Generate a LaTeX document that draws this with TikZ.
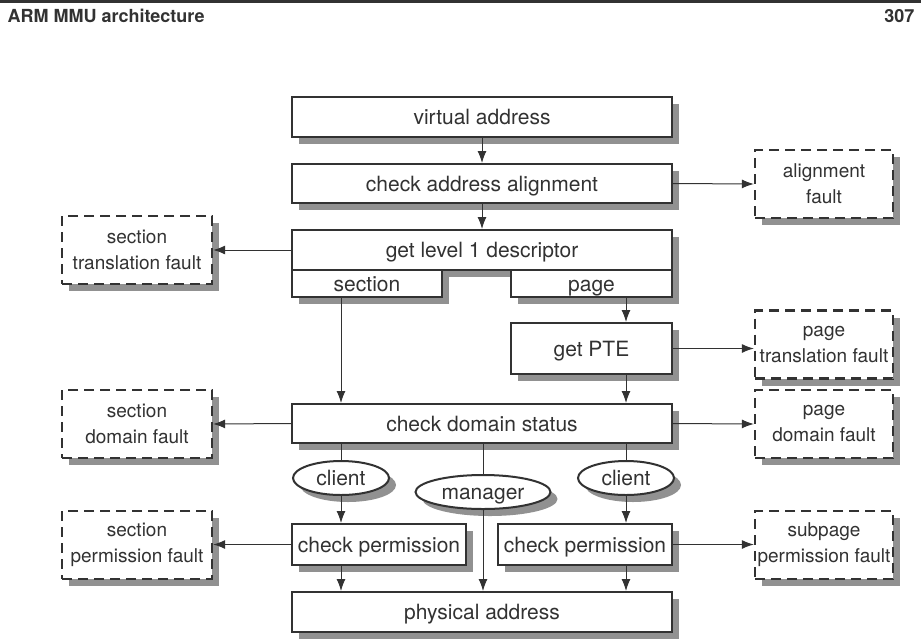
\documentclass[tikz,border=0pt]{standalone}
\usepackage{fontspec}
\setmainfont{TeX Gyre Heros}
\usetikzlibrary{
    arrows.meta,
    shapes.geometric,
    shadows
}
\definecolor{inkgray}{RGB}{50,50,50}
\definecolor{shadowgray}{RGB}{145,145,145}

\begin{document}
\begin{tikzpicture}[x=1pt, y=-1pt,
    box/.style={draw=inkgray, line width=2pt, fill=white, inner sep=0pt,
        text=inkgray, font=\fontsize{21}{24}\selectfont,
        text height=18.5pt, text depth=3pt,
        drop shadow={shadow xshift=7pt, shadow yshift=-7pt, fill=shadowgray, opacity=1}},
    wide/.style={box, minimum width=380pt, minimum height=40pt},
    fault/.style={box, dash pattern=on 10pt off 6pt, line width=2.3pt, align=center,
        text height=, text depth=,
        font=\fontsize{19}{26}\selectfont, minimum height=68pt},
    lfault/.style={fault, minimum width=150pt},
    rfault/.style={fault, minimum width=138pt},
    access/.style={box, ellipse, minimum height=34pt, text height=17pt, text depth=2pt},
    arr/.style={draw=inkgray, line width=1pt, -{Latex[length=12pt, width=9pt]}},
    link/.style={draw=inkgray, line width=1pt}
]
\useasboundingbox (0,0) rectangle (921,641);

% Page header
\draw[inkgray, line width=2.5pt] (0,1.5) -- (921,1.5);
\node[anchor=base west, font=\fontsize{18}{20}\selectfont\bfseries, text=inkgray] (title) at (4,22) {ARM MMU architecture};
\node[anchor=base east, font=\fontsize{18}{20}\selectfont\bfseries, text=inkgray] (pageno) at (918,22) {307};

% Main column
\node[wide] (virt) at (482,117) {virtual address};
\node[wide, minimum height=39pt] (align) at (482,183.5) {check address alignment};
\node[wide] (lvlone) at (482,250) {get level 1 descriptor};
\node[box, minimum width=150pt, minimum height=27pt] (sect) at (367,283.5) {section};
\node[box, minimum width=161pt, minimum height=27pt] (page) at (591.5,283.5) {page};
\node[box, minimum width=161pt, minimum height=51pt] (pte) at (591.5,348.5) {get PTE};
\node[wide, minimum height=39pt] (dom) at (482,423.5) {check domain status};

% Domain access types
\node[access, minimum width=96pt] (clientA) at (341,478) {client};
\node[access, minimum width=135pt] (manager) at (483,492) {manager};
\node[access, minimum width=96pt] (clientB) at (626,478) {client};

\node[box, minimum width=174pt, minimum height=41pt] (permA) at (379,544.5) {check permission};
\node[box, minimum width=174pt, minimum height=41pt] (permB) at (585,544.5) {check permission};
\node[wide] (phys) at (482,612) {physical address};

% Faults
\node[rfault] (alignfault) at (824,184) {alignment\\fault};
\node[lfault] (secttrans) at (137,250) {section\\translation fault};
\node[rfault] (pagetrans) at (824,344.5) {page\\translation fault};
\node[lfault] (sectdom) at (137,424) {section\\domain fault};
\node[rfault] (pagedom) at (824,424) {page\\domain fault};
\node[lfault] (sectperm) at (137,545) {section\\permission fault};
\node[rfault] (subperm) at (824,545) {subpage\\permission fault};

% Connectors
\draw[arr] (virt) -- (align);
\draw[arr] (align) -- (lvlone);
\draw[arr] (align.east) -- (alignfault.west);
\draw[arr] (lvlone.west) -- (secttrans.east);
\draw[arr] (clientA |- sect.south) -- (clientA |- dom.north);
\draw[arr] (clientB |- page.south) -- (clientB |- pte.north);
\draw[arr] (pte.east) -- (pte.east -| pagetrans.west);
\draw[arr] (clientB |- pte.south) -- (clientB |- dom.north);
\draw[arr] (dom.west) -- (sectdom.east);
\draw[arr] (dom.east) -- (pagedom.west);

\draw[link] (clientA |- dom.south) -- (clientA.north);
\draw[link] (manager |- dom.south) -- (manager.north);
\draw[link] (clientB |- dom.south) -- (clientB.north);
\draw[arr] (clientA.south) -- (clientA |- permA.north);
\draw[arr] (clientB.south) -- (clientB |- permB.north);
\draw[arr] (manager.south) -- (manager |- phys.north);

\draw[arr] (permA.west) -- (permA.west -| sectperm.east);
\draw[arr] (permB.east) -- (permB.east -| subperm.west);
\draw[arr] (clientA |- permA.south) -- (clientA |- phys.north);
\draw[arr] (clientB |- permB.south) -- (clientB |- phys.north);

\end{tikzpicture}
\end{document}
